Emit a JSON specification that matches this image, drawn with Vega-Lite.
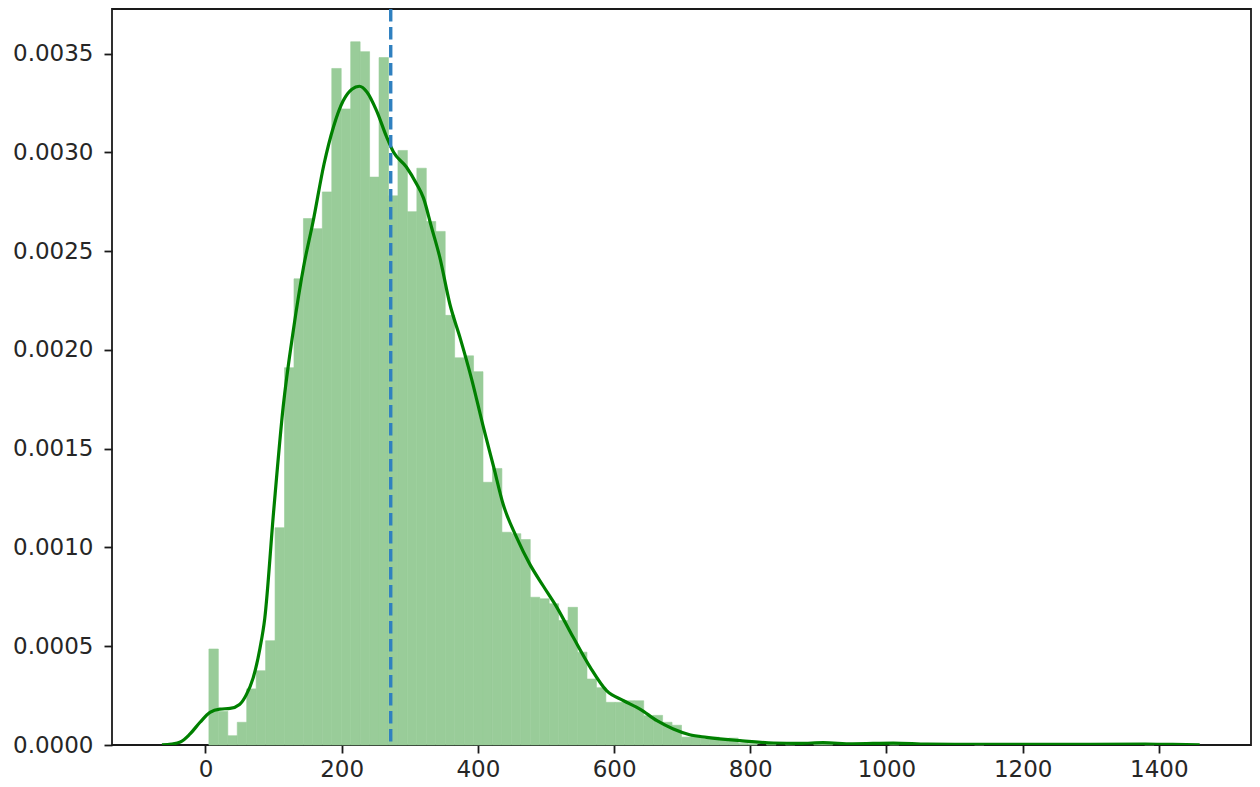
{
  "$schema": "https://vega.github.io/schema/vega-lite/v6.json",
  "width": 1139,
  "height": 736,
  "autosize": "none",
  "padding": {"left": 112, "top": 9, "right": 9, "bottom": 42},
  "background": "white",
  "config": {
    "font": "DejaVu Sans",
    "view": {"stroke": "#1a1a1a", "strokeWidth": 1.8},
    "axis": {
      "grid": false,
      "domain": false,
      "ticks": true,
      "tickSize": 8,
      "tickColor": "#1a1a1a",
      "tickWidth": 1.8,
      "labelFont": "DejaVu Sans",
      "labelFontSize": 23,
      "labelColor": "#262626",
      "title": null
    }
  },
  "datasets": {
    "bins": [
      {"bin_start": 5.0, "bin_end": 18.88, "density": 0.000486},
      {"bin_start": 18.88, "bin_end": 32.76, "density": 0.00017},
      {"bin_start": 32.76, "bin_end": 46.64, "density": 0.000047},
      {"bin_start": 46.64, "bin_end": 60.52, "density": 0.000115},
      {"bin_start": 60.52, "bin_end": 74.4, "density": 0.000284},
      {"bin_start": 74.4, "bin_end": 88.28, "density": 0.000376},
      {"bin_start": 88.28, "bin_end": 102.16, "density": 0.000528},
      {"bin_start": 102.16, "bin_end": 116.04, "density": 0.0011},
      {"bin_start": 116.04, "bin_end": 129.92, "density": 0.00191},
      {"bin_start": 129.92, "bin_end": 143.8, "density": 0.00236},
      {"bin_start": 143.8, "bin_end": 157.68, "density": 0.002665},
      {"bin_start": 157.68, "bin_end": 171.56, "density": 0.002614},
      {"bin_start": 171.56, "bin_end": 185.44, "density": 0.0028},
      {"bin_start": 185.44, "bin_end": 199.32, "density": 0.003425},
      {"bin_start": 199.32, "bin_end": 213.2, "density": 0.00322},
      {"bin_start": 213.2, "bin_end": 227.08, "density": 0.00356},
      {"bin_start": 227.08, "bin_end": 240.96, "density": 0.00351},
      {"bin_start": 240.96, "bin_end": 254.84, "density": 0.002875},
      {"bin_start": 254.84, "bin_end": 268.72, "density": 0.00348},
      {"bin_start": 268.72, "bin_end": 282.6, "density": 0.00278},
      {"bin_start": 282.6, "bin_end": 296.48, "density": 0.00301},
      {"bin_start": 296.48, "bin_end": 310.36, "density": 0.0027},
      {"bin_start": 310.36, "bin_end": 324.24, "density": 0.00292},
      {"bin_start": 324.24, "bin_end": 338.12, "density": 0.00265},
      {"bin_start": 338.12, "bin_end": 352.0, "density": 0.0026},
      {"bin_start": 352.0, "bin_end": 365.88, "density": 0.002175},
      {"bin_start": 365.88, "bin_end": 379.76, "density": 0.00196},
      {"bin_start": 379.76, "bin_end": 393.64, "density": 0.00197},
      {"bin_start": 393.64, "bin_end": 407.52, "density": 0.00189},
      {"bin_start": 407.52, "bin_end": 421.4, "density": 0.00133},
      {"bin_start": 421.4, "bin_end": 435.28, "density": 0.0014},
      {"bin_start": 435.28, "bin_end": 449.16, "density": 0.001077},
      {"bin_start": 449.16, "bin_end": 463.04, "density": 0.00107},
      {"bin_start": 463.04, "bin_end": 476.92, "density": 0.00104},
      {"bin_start": 476.92, "bin_end": 490.8, "density": 0.000748},
      {"bin_start": 490.8, "bin_end": 504.68, "density": 0.00074},
      {"bin_start": 504.68, "bin_end": 518.56, "density": 0.000715},
      {"bin_start": 518.56, "bin_end": 532.44, "density": 0.00063},
      {"bin_start": 532.44, "bin_end": 546.32, "density": 0.000697},
      {"bin_start": 546.32, "bin_end": 560.2, "density": 0.00047},
      {"bin_start": 560.2, "bin_end": 574.08, "density": 0.000334},
      {"bin_start": 574.08, "bin_end": 587.96, "density": 0.00029},
      {"bin_start": 587.96, "bin_end": 601.84, "density": 0.000216},
      {"bin_start": 601.84, "bin_end": 615.72, "density": 0.000216},
      {"bin_start": 615.72, "bin_end": 629.6, "density": 0.000224},
      {"bin_start": 629.6, "bin_end": 643.48, "density": 0.000224},
      {"bin_start": 643.48, "bin_end": 657.36, "density": 0.000148},
      {"bin_start": 657.36, "bin_end": 671.24, "density": 0.00015},
      {"bin_start": 671.24, "bin_end": 685.12, "density": 0.000115},
      {"bin_start": 685.12, "bin_end": 699.0, "density": 0.0001},
      {"bin_start": 699.0, "bin_end": 712.88, "density": 0.00004},
      {"bin_start": 712.88, "bin_end": 726.76, "density": 0.00005},
      {"bin_start": 726.76, "bin_end": 740.64, "density": 0.00004},
      {"bin_start": 740.64, "bin_end": 754.52, "density": 0.00004},
      {"bin_start": 754.52, "bin_end": 768.4, "density": 0.00003},
      {"bin_start": 768.4, "bin_end": 782.28, "density": 0.000035},
      {"bin_start": 782.28, "bin_end": 796.16, "density": 0.000008},
      {"bin_start": 796.16, "bin_end": 810.04, "density": 0.000006},
      {"bin_start": 823.92, "bin_end": 837.8, "density": 0.000006},
      {"bin_start": 851.68, "bin_end": 865.56, "density": 0.000006},
      {"bin_start": 893.32, "bin_end": 907.2, "density": 0.000012},
      {"bin_start": 907.2, "bin_end": 921.08, "density": 0.000006},
      {"bin_start": 1004.36, "bin_end": 1018.24, "density": 0.000012},
      {"bin_start": 1129.28, "bin_end": 1143.16, "density": 0.000006},
      {"bin_start": 1379.12, "bin_end": 1393.0, "density": 0.000006}
    ],
    "kde": [
      {"x": -64, "density": 0.000001},
      {"x": -50, "density": 0.000005},
      {"x": -37, "density": 0.000015},
      {"x": -23, "density": 0.000055},
      {"x": -8, "density": 0.000115},
      {"x": 6.6, "density": 0.000165},
      {"x": 21, "density": 0.000182},
      {"x": 36, "density": 0.000185},
      {"x": 50, "density": 0.000205},
      {"x": 60, "density": 0.000255},
      {"x": 70, "density": 0.00034},
      {"x": 80, "density": 0.00049},
      {"x": 87, "density": 0.00064},
      {"x": 100, "density": 0.00118},
      {"x": 114, "density": 0.00171},
      {"x": 129, "density": 0.0021},
      {"x": 144, "density": 0.00242},
      {"x": 158, "density": 0.00265},
      {"x": 174, "density": 0.00294},
      {"x": 188, "density": 0.00313},
      {"x": 202, "density": 0.00326},
      {"x": 215, "density": 0.00332},
      {"x": 226, "density": 0.003335},
      {"x": 237, "density": 0.003306},
      {"x": 251, "density": 0.003213},
      {"x": 266, "density": 0.003078},
      {"x": 276, "density": 0.003002},
      {"x": 295, "density": 0.002926},
      {"x": 310, "density": 0.00284},
      {"x": 320, "density": 0.00277},
      {"x": 332, "density": 0.00262},
      {"x": 344, "density": 0.00247},
      {"x": 359, "density": 0.00223},
      {"x": 374, "density": 0.00206},
      {"x": 391, "density": 0.00185},
      {"x": 408, "density": 0.00161},
      {"x": 423, "density": 0.00141},
      {"x": 437, "density": 0.00122},
      {"x": 457, "density": 0.00105},
      {"x": 476, "density": 0.000917},
      {"x": 496, "density": 0.000805},
      {"x": 516, "density": 0.000697},
      {"x": 540, "density": 0.000545},
      {"x": 565, "density": 0.000393},
      {"x": 589, "density": 0.000275},
      {"x": 614, "density": 0.000224},
      {"x": 638, "density": 0.000182},
      {"x": 663, "density": 0.000123},
      {"x": 687, "density": 0.000081},
      {"x": 711, "density": 0.000052},
      {"x": 736, "density": 0.000039},
      {"x": 785, "density": 0.000022},
      {"x": 834, "density": 0.00001},
      {"x": 873, "density": 0.000008},
      {"x": 907, "density": 0.000012},
      {"x": 950, "density": 0.000006},
      {"x": 1010, "density": 0.00001},
      {"x": 1060, "density": 0.000004},
      {"x": 1100, "density": 0.000003},
      {"x": 1200, "density": 0.000003},
      {"x": 1300, "density": 0.000003},
      {"x": 1380, "density": 0.000004},
      {"x": 1420, "density": 0.000003},
      {"x": 1460, "density": 0.000001}
    ],
    "mean": [{"x": 272}]
  },
  "layer": [
    {
      "data": {"name": "bins"},
      "mark": {"type": "rect", "fill": "#99cc99", "stroke": "#99cc99", "strokeWidth": 0.6},
      "encoding": {
        "x": {
          "field": "bin_start", "type": "quantitative",
          "scale": {"domain": [-137.3, 1535.3], "nice": false, "zero": false},
          "axis": {"values": [0, 200, 400, 600, 800, 1000, 1200, 1400], "format": "d", "labelPadding": 5}
        },
        "x2": {"field": "bin_end"},
        "y": {
          "field": "density", "type": "quantitative",
          "scale": {"domain": [0, 0.003726], "nice": false},
          "axis": {"values": [0, 0.0005, 0.001, 0.0015, 0.002, 0.0025, 0.003, 0.0035], "format": ".4f", "labelPadding": 11}
        },
        "y2": {"datum": 0}
      }
    },
    {
      "data": {"name": "kde"},
      "mark": {"type": "line", "color": "#008000", "strokeWidth": 3.2, "interpolate": "monotone", "clip": true},
      "encoding": {
        "x": {"field": "x", "type": "quantitative"},
        "y": {"field": "density", "type": "quantitative"}
      }
    },
    {
      "data": {"name": "mean"},
      "mark": {"type": "rule", "color": "#2f80c0", "strokeWidth": 3.4, "strokeDash": [12.5, 5.5]},
      "encoding": {
        "x": {"field": "x", "type": "quantitative"}
      }
    }
  ]
}
